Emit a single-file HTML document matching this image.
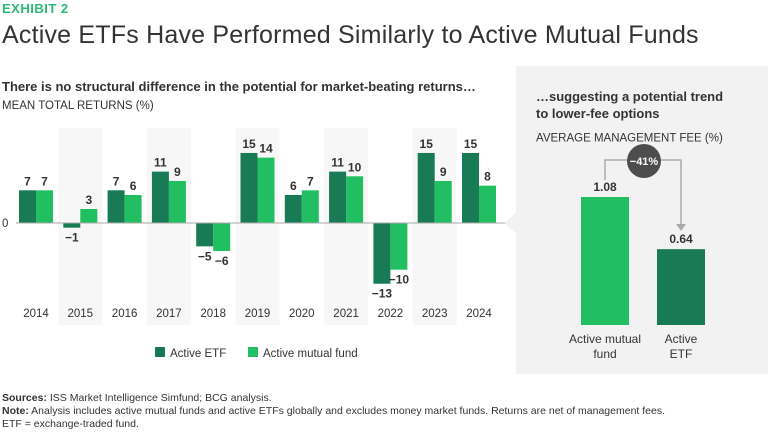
<!DOCTYPE html>
<html><head><meta charset="utf-8"><style>
body{margin:0;width:768px;height:432px;background:#fff;font-family:"Liberation Sans",sans-serif;color:#333;position:relative;overflow:hidden}
.a{position:absolute;white-space:nowrap}
</style></head><body>
<div class="a" style="left:2px;top:1px;font-size:13px;font-weight:bold;color:#29ba74;letter-spacing:0.5px">EXHIBIT 2</div>
<div class="a" style="left:2px;top:21px;font-size:25px;letter-spacing:0.2px;color:#333">Active ETFs Have Performed Similarly to Active Mutual Funds</div>
<div class="a" style="left:2px;top:79px;font-size:13px;font-weight:bold">There is no structural difference in the potential for market-beating returns…</div>
<div class="a" style="left:2px;top:100px;font-size:11.5px">MEAN TOTAL RETURNS (%)</div>
<svg class="a" style="left:0;top:0" width="768" height="432" id="svg"></svg>
<div class="a" style="left:2px;top:392px;font-size:10.5px;line-height:13px;color:#333"><b>Sources:</b> ISS Market Intelligence Simfund; BCG analysis.<br><b>Note:</b> Analysis includes active mutual funds and active ETFs globally and excludes money market funds. Returns are net of management fees.<br>ETF = exchange-traded fund.</div>
<script>
const years=["2014","2015","2016","2017","2018","2019","2020","2021","2022","2023","2024"];
const etf=[7,-1,7,11,-5,15,6,11,-13,15,15];
const mf=[7,3,6,9,-6,14,7,10,-10,9,8];
const feeCats=["Active mutual fund","Active ETF"];
const fees=[1.08,0.64];
const DARK="#197a56",LIGHT="#21bf61";
const s=document.getElementById('svg');const NS="http://www.w3.org/2000/svg";
function mk(t,a,p){const e=document.createElementNS(NS,t);for(const k in a)e.setAttribute(k,a[k]);(p||s).appendChild(e);return e;}
const x=i=>36+i*44.3, y=v=>223-v*4.67;
const panel=mk('path',{d:'M516 66 H768 V374 H516 V233 L504 223 L516 213 Z',fill:'#f2f2f2'});

years.forEach((yr,i)=>{if(i%2==1){const r=mk('rect',{x:x(i)-22,y:128,width:44,height:197,fill:'#f7f7f7'});
}});
years.forEach((yr,i)=>{
 [[etf[i],DARK,-17],[mf[i],LIGHT,0]].forEach(([v,c,dx])=>{
  const r=mk('rect',{x:x(i)+dx,y:Math.min(y(v),y(0)),width:17,height:Math.abs(y(v)-y(0)),fill:c});
  
  const t=mk('text',{x:x(i)+dx+8.5,y:v>=0?y(v)-5:y(v)+14,'text-anchor':'middle','font-size':12,'font-weight':'bold',fill:'#333'});
  t.textContent=v<0?'−'+Math.abs(v):v;
  
 });
 const t=mk('text',{x:x(i),y:317,'text-anchor':'middle','font-size':11.5,fill:'#333'});t.textContent=yr;
 
});
const z=mk('line',{x1:16,x2:505,y1:y(0),y2:y(0),stroke:'#aaa','stroke-width':1});

const zt=mk('text',{x:2,y:y(0)+4,'font-size':11.5,fill:'#333'});zt.textContent='0';

[[155,DARK,'Active ETF'],[248,LIGHT,'Active mutual fund']].forEach(([lx,c,l])=>{
 const r=mk('rect',{x:lx,y:347,width:10,height:10,fill:c});
 const t=mk('text',{x:lx+15,y:357,'font-size':11.5,fill:'#333'});t.textContent=l;
});
const fx=[581,657],fy=v=>325-v*118.5,fc=[LIGHT,DARK];
fees.forEach((v,i)=>{
 const r=mk('rect',{x:fx[i],y:fy(v),width:48,height:325-fy(v),fill:fc[i]});
 const t=mk('text',{x:fx[i]+24,y:fy(v)-6,'text-anchor':'middle','font-size':12,'font-weight':'bold',fill:'#333'});t.textContent=v.toFixed(2);
 
});
[[605,['Active mutual','fund']],[681,['Active','ETF']]].forEach(([cx,ls])=>ls.forEach((l,j)=>{
 const t=mk('text',{x:cx,y:343+j*15,'text-anchor':'middle','font-size':12,fill:'#333'});t.textContent=l;
 }));
const br=mk('path',{d:'M605 180 V160 H681 V226',fill:'none',stroke:'#aaa','stroke-width':1.5});
const ah=mk('path',{d:'M676 224 L686 224 L681 231 Z',fill:'#aaa'});
const c=mk('circle',{cx:644,cy:161,r:17,fill:'#4d4d4d'});
const ct=mk('text',{x:644,y:165,'text-anchor':'middle','font-size':11,'font-weight':'bold',fill:'#fff'});ct.textContent='−41%';

[['…suggesting a potential trend',90,13,'bold'],['to lower-fee options',107,13,'bold'],['AVERAGE MANAGEMENT FEE (%)',132,11.5,'normal']].forEach(([l,ty,fs,fw])=>{
 const t=mk('text',{x:536,y:ty+fs-2,'font-size':fs,'font-weight':fw,fill:'#333'});t.textContent=l;
 });
</script>
</body></html>
